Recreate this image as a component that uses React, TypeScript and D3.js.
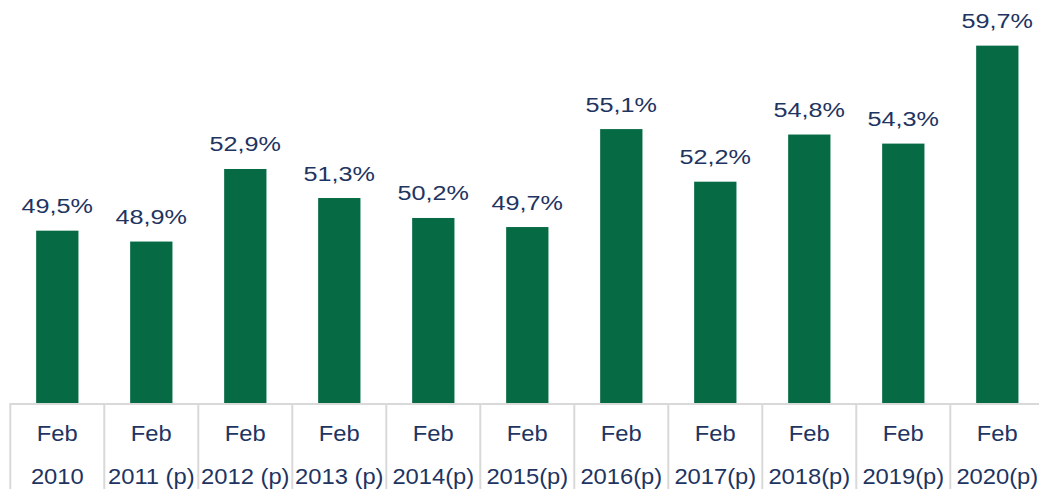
import React from "react";
import * as d3 from "d3";

const categories = ["c0","c1","c2","c3","c4","c5","c6","c7","c8","c9","c10"];
const monthLabels = ["Feb","Feb","Feb","Feb","Feb","Feb","Feb","Feb","Feb","Feb","Feb"];
const yearLabels = ["2010","2011 (p)","2012 (p)","2013 (p)","2014(p)","2015(p)","2016(p)","2017(p)","2018(p)","2019(p)","2020(p)"];
const values = [49.5, 48.9, 52.9, 51.3, 50.2, 49.7, 55.1, 52.2, 54.8, 54.3, 59.7];
const yDomain = [40, 60];

const W = 1039;
const H = 489;
const BAR = "#066b44";
const TEXT = "#1e3461";
const GRID = "#d9d9d9";
const FONT = "Liberation Sans, Arial, sans-serif";

export default function App() {
  const left = 10.3;
  const step = 94;
  const x = d3.scaleBand<string>()
    .domain(categories)
    .range([left, left + step * categories.length])
    .paddingInner(0.55)
    .paddingOuter(0.275);
  const baseY = 403;
  const y = d3.scaleLinear().domain(yDomain).range([baseY, 40.2]);
  const fmt = (v: number) => v.toFixed(1).replace(".", ",") + "%";
  const boundaries = d3.range(categories.length + 1).map((i) => left + i * x.step());

  return (
    <svg width={W} height={H} style={{ position: "fixed", left: 0, top: 0, background: "#fff" }}>
      <rect x={0} y={0} width={W} height={H} fill="#fff" />
      {categories.map((c, i) => (
        <rect key={c} x={x(c)} y={y(values[i])} width={x.bandwidth()} height={baseY - y(values[i])} fill={BAR} />
      ))}
      {categories.map((c, i) => (
        <text key={"l" + c}
          transform={`translate(${(x(c) as number) + x.bandwidth() / 2},${y(values[i]) - 17.5}) scale(1.2,1)`}
          textAnchor="middle" fontFamily={FONT} fontSize={21} fill={TEXT}>
          {fmt(values[i])}
        </text>
      ))}
      <line x1={left} x2={W} y1={baseY + 1} y2={baseY + 1} stroke={GRID} strokeWidth={2} />
      {boundaries.map((b, i) => (
        <line key={"b" + i} x1={b} x2={b} y1={baseY} y2={H} stroke={GRID} strokeWidth={2} />
      ))}
      {categories.map((c, i) => {
        const cx = (x(c) as number) + x.bandwidth() / 2;
        return (
          <g key={"a" + c} fontFamily={FONT} fontSize={22} fill={TEXT} textAnchor="middle">
            <text transform={`translate(${cx},440.5) scale(1.08,1)`}>{monthLabels[i]}</text>
            <text transform={`translate(${cx},484) scale(1.08,1)`}>{yearLabels[i]}</text>
          </g>
        );
      })}
    </svg>
  );
}
